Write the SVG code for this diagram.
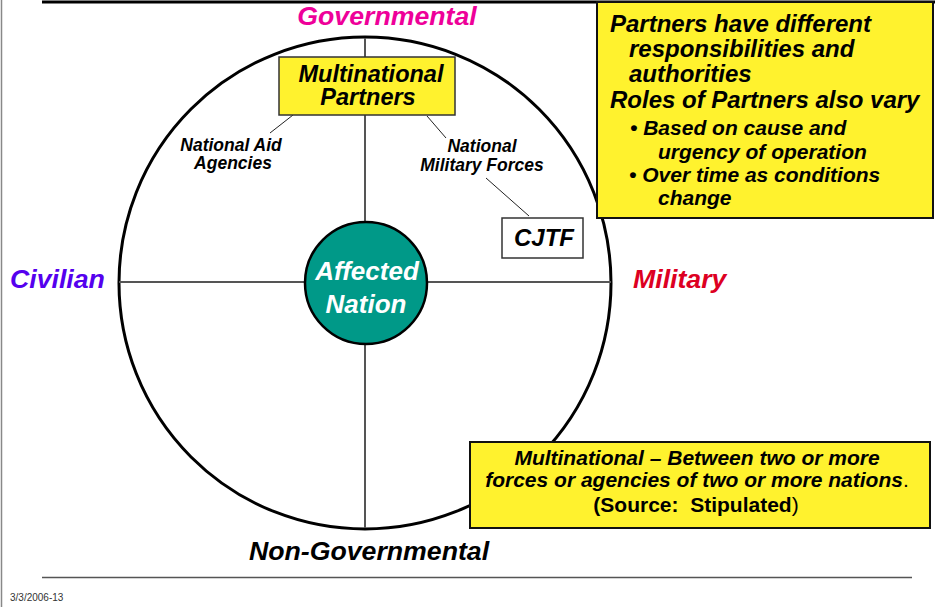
<svg xmlns="http://www.w3.org/2000/svg" width="935" height="607" viewBox="0 0 935 607">
<style>
text{font-family:"Liberation Sans",Arial,sans-serif;font-weight:bold}
.i{font-style:italic}
.ax{stroke:#555;stroke-width:2;fill:none}
.lk{stroke:#222;stroke-width:1;fill:none}
.yb{fill:#FFF22E;stroke:#111;stroke-width:2}
.big{font-size:26.7px}
</style>
<rect x="0" y="0" width="935" height="607" fill="#fff"/>
<line x1="1.5" y1="0" x2="1.5" y2="607" stroke="#888" stroke-width="1.5"/>
<line x1="42" y1="2" x2="935" y2="2" stroke="#000" stroke-width="3"/>
<line x1="42" y1="577.5" x2="912" y2="577.5" stroke="#555" stroke-width="1.5"/>
<text x="10" y="601" font-size="10" fill="#333" style="font-weight:normal">3/3/2006-13</text>

<g id="axes">
<circle cx="365" cy="283" r="246" fill="none" stroke="#000" stroke-width="3"/>
<line class="ax" x1="365" y1="38" x2="365" y2="528"/>
<line class="ax" x1="119" y1="282" x2="611" y2="282"/>
</g>

<g id="labels">
<text class="i big" x="387" y="25" fill="#EE0099" text-anchor="middle">Governmental</text>
<text class="i big" x="10" y="288" fill="#5500EE">Civilian</text>
<text class="i big" x="633" y="288" fill="#DD0022">Military</text>
<text class="i big" x="369" y="560" fill="#000" text-anchor="middle">Non-Governmental</text>
</g>

<g id="connectors">
<line class="lk" x1="293" y1="115" x2="270" y2="133"/>
<line class="lk" x1="427" y1="116" x2="446" y2="138"/>
<line class="lk" x1="486" y1="178" x2="529" y2="216"/>
</g>

<g id="affected-nation">
<circle cx="366" cy="283" r="61" fill="#009988" stroke="#000" stroke-width="2.5"/>
<text class="i" font-size="26" fill="#fff" text-anchor="middle"><tspan x="367" y="280">Affected</tspan><tspan x="366" y="313">Nation</tspan></text>
</g>

<g id="multinational-partners">
<rect x="279" y="57" width="176" height="58" fill="#FFF22E" stroke="#333" stroke-width="1.5"/>
<text class="i" font-size="23.5" text-anchor="middle"><tspan x="371" y="82">Multinational</tspan><tspan x="368" y="105">Partners</tspan></text>
</g>

<g id="national-aid-agencies">
<text class="i" font-size="17.5" text-anchor="middle"><tspan x="231" y="151">National Aid</tspan><tspan x="233" y="169">Agencies</tspan></text>
</g>

<g id="national-military-forces">
<text class="i" font-size="17.5" text-anchor="middle"><tspan x="482" y="152">National</tspan><tspan x="482" y="171">Military Forces</tspan></text>
</g>

<g id="cjtf">
<rect x="502" y="218" width="81" height="40" fill="#fff" stroke="#333" stroke-width="1.5"/>
<text class="i" x="544" y="246" font-size="24" text-anchor="middle">CJTF</text>
</g>

<g id="partners-note">
<rect class="yb" x="597" y="2" width="336" height="216"/>
<text class="i" font-size="24">
<tspan x="610" y="32">Partners have different</tspan>
<tspan x="629" y="57">responsibilities and</tspan>
<tspan x="629" y="82">authorities</tspan>
<tspan x="610" y="108">Roles of Partners also vary</tspan>
</text>
<text class="i" font-size="21">
<tspan x="630" y="135">• Based on cause and</tspan>
<tspan x="658" y="159">urgency of operation</tspan>
<tspan x="629" y="182">• Over time as conditions</tspan>
<tspan x="658" y="205">change</tspan>
</text>
</g>

<g id="definition-note">
<rect class="yb" x="470" y="442" width="460" height="86"/>
<text class="i" x="697" y="465" font-size="21" text-anchor="middle">Multinational – Between two or more</text>
<text class="i" x="697" y="487" font-size="21" text-anchor="middle">forces or agencies of two or more nations<tspan style="font-weight:normal;font-style:normal">.</tspan></text>
<text x="696" y="512" font-size="21" text-anchor="middle">(Source:&#160; Stipulated<tspan style="font-weight:normal">)</tspan></text>
</g>
</svg>
